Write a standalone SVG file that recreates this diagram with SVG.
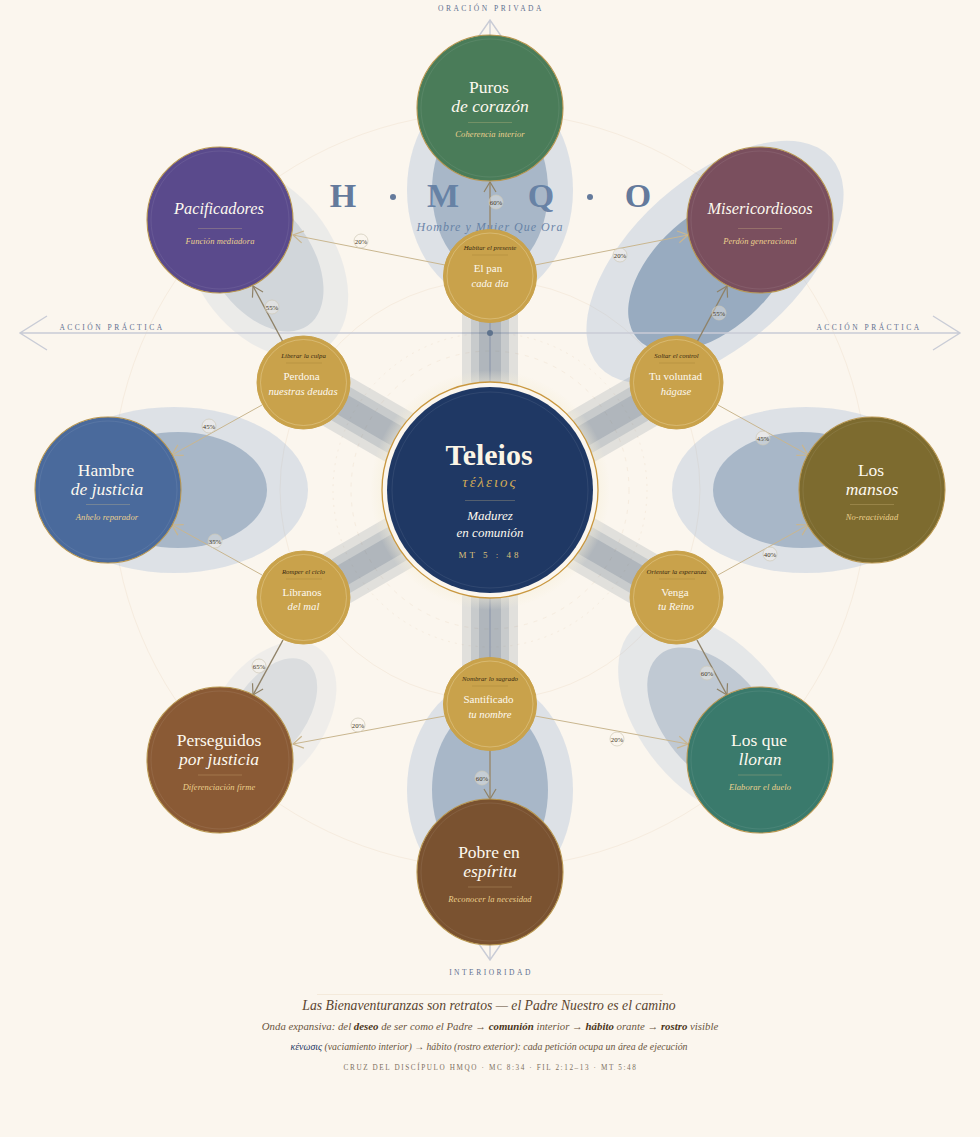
<svg xmlns="http://www.w3.org/2000/svg" width="980" height="1137" viewBox="0 0 980 1137">
<defs>
<marker id="ah" markerUnits="userSpaceOnUse" markerWidth="16" markerHeight="16" refX="11" refY="7" orient="auto"><path d="M1 1L11 7L1 13" fill="none" stroke="context-stroke" stroke-width="1.2"/></marker>
<radialGradient id="halo"><stop offset=".85" stop-color="#f6efda"/><stop offset="1" stop-color="#f6efda" stop-opacity="0"/></radialGradient>
</defs>
<style>
text{font-family:"Liberation Serif","Times New Roman",serif;text-anchor:middle}
.o{fill:#86a8cf;fill-opacity:.26}
.i{fill:#5f7fa0;fill-opacity:.42}
.ring{fill:none;stroke:#f6ecdf;stroke-width:1}
.band{fill:none;stroke:#4f647c}
.axis{fill:none;stroke:#c9ccd6;stroke-width:1.4}
.axl{font-size:7.500px;letter-spacing:2.500px;fill:#5f7090}
.ttl{font-size:34px;font-weight:bold;fill:#647a9c}
.c1{fill:none;stroke:#c9b68f;stroke-width:1;marker-end:url(#ah)}
.c2{fill:none;stroke:#8f8268;stroke-width:1.4;marker-end:url(#ah)}
.bd{fill:#fbf6ee;fill-opacity:.35;stroke:#cfc9b8;stroke-width:.7}
.bt{font-size:6.800px;fill:#3f3524}
.n{stroke:#b8964f;stroke-width:1.1}
.nr{fill:none;stroke:#fff;stroke-opacity:.1;stroke-width:.8}
.t{font-size:17.500px;fill:#fdf9ef}
.ti{font-size:17.500px;font-style:italic;fill:#fdf9ef}
.tl{font-size:16.300px;font-style:italic;fill:#fdf9ef}
.dv{stroke:#e2c98a;stroke-opacity:.35;stroke-width:.8}
.s{font-size:8.500px;font-style:italic;fill:#ecd18e;letter-spacing:.1px}
.p{fill:#c9a24b;stroke:#c9a24b;stroke-width:1}
.pr{fill:none;stroke:#ecd9a6;stroke-opacity:.6;stroke-width:.7}
.pu{font-size:6.800px;font-style:italic;fill:#3a2a12}
.pt{font-size:11px;fill:#fdf9ef}
.pi{font-size:10.700px;font-style:italic;fill:#fdf9ef}
.pd{stroke:#a9863a;stroke-width:.5}
</style>
<rect width="980" height="1137" fill="#fbf6ee"/>
<g id="rings">
<circle class="ring" cx="490" cy="490" r="378"/>
<circle class="ring" cx="490" cy="490" r="210"/>
<circle class="ring" cx="490" cy="490" r="157" stroke-dasharray="2 5"/>
<circle class="ring" cx="490" cy="490" r="139" stroke-dasharray="4 6"/>
</g>
<g id="title">
<text class="ttl" x="343" y="207">H</text>
<circle cx="393" cy="197" r="3" fill="#647a9c"/>
<text class="ttl" x="443" y="207">M</text>
<text class="ttl" x="541" y="207">Q</text>
<circle cx="590" cy="197" r="3" fill="#647a9c"/>
<text class="ttl" x="638" y="207">O</text>
<text x="490" y="231" font-size="12" font-style="italic" letter-spacing="1" fill="#647a9c">Hombre y Mujer Que Ora</text>
</g>
<g id="zones">
<g><ellipse class="o" cx="490" cy="190" rx="83" ry="110"/><ellipse class="i" cx="490" cy="190" rx="58" ry="85"/></g>
<g><ellipse class="o" cx="490" cy="790" rx="83" ry="110"/><ellipse class="i" cx="490" cy="790" rx="58" ry="85"/></g>
<g><ellipse class="o" cx="806" cy="490" rx="134" ry="83"/><ellipse class="i" cx="802" cy="490" rx="89" ry="58"/></g>
<g><ellipse class="o" cx="174" cy="490" rx="134" ry="83"/><ellipse class="i" cx="178" cy="490" rx="89" ry="58"/></g>
<g><ellipse class="o" cx="715" cy="262" rx="156" ry="83" transform="rotate(-42 715 262)"/><ellipse class="i" style="fill-opacity:.55" cx="712" cy="272" rx="100" ry="58" transform="rotate(-42 712 272)"/></g>
<g opacity=".7"><ellipse class="o" cx="713" cy="718" rx="120" ry="72" transform="rotate(50 713 718)"/><ellipse class="i" cx="714" cy="720" rx="85" ry="50" transform="rotate(50 714 720)"/></g>
<g opacity=".5"><ellipse class="o" cx="265" cy="262" rx="105" ry="70" transform="rotate(55 265 262)"/><ellipse class="i" cx="262" cy="260" rx="80" ry="50" transform="rotate(55 262 260)"/></g>
<g opacity=".38"><ellipse class="o" cx="270" cy="718" rx="85" ry="55" transform="rotate(-55 270 718)"/><ellipse class="i" cx="271" cy="713" rx="62" ry="36" transform="rotate(-55 271 713)"/></g>
</g>
<g id="axes">
<path class="axis" d="M20 333H960M47 316L20 333L47 350M933 316L960 333L933 350"/>
<path class="axis" d="M490 20V960M472 46L490 20L508 46M472 934L490 960L508 934"/>
<circle cx="490" cy="333" r="3" fill="#6c7f9c"/>
<text class="axl" x="491" y="11">ORACIÓN PRIVADA</text>
<text class="axl" x="112" y="330">ACCIÓN PRÁCTICA</text>
<text class="axl" x="869" y="330">ACCIÓN PRÁCTICA</text>
<text class="axl" x="491" y="975">INTERIORIDAD</text>
</g>
<g id="bands">
<g class="band" stroke-width="56" stroke-opacity=".15"><path d="M490 490V276M490 490V704M490 490L675 383M490 490L675 597M490 490L305 383M490 490L305 597"/></g>
<g class="band" stroke-width="38" stroke-opacity=".17"><path d="M490 490V276M490 490V704M490 490L675 383M490 490L675 597M490 490L305 383M490 490L305 597"/></g>
<g class="band" stroke-width="22" stroke-opacity=".2"><path d="M490 490V276M490 490V704M490 490L675 383M490 490L675 597M490 490L305 383M490 490L305 597"/></g>
</g>
<g id="connectors">
<path class="c2" d="M490 232V182"/>
<path class="c1" d="M445 265L293 235"/>
<path class="c1" d="M535 265L688 235"/>
<path class="c2" d="M283 342L253 286"/>
<path class="c2" d="M697 342L727 286"/>
<path class="c1" d="M718 405L808 455"/>
<path class="c1" d="M262 405L172 455"/>
<path class="c1" d="M262 575L172 525"/>
<path class="c1" d="M718 575L808 525"/>
<path class="c2" d="M697 640L727 695"/>
<path class="c2" d="M283 640L253 695"/>
<path class="c1" d="M445 716L293 744"/>
<path class="c1" d="M535 716L688 744"/>
<path class="c2" d="M490 750V799"/>
</g>
<g id="badges">
<circle class="bd" cx="496" cy="202" r="7"/><text class="bt" x="496" y="204.500">60%</text>
<circle class="bd" cx="361" cy="241" r="7"/><text class="bt" x="361" y="243.500">20%</text>
<circle class="bd" cx="620" cy="255" r="7"/><text class="bt" x="620" y="257.500">20%</text>
<circle class="bd" cx="272" cy="307" r="7"/><text class="bt" x="272" y="309.500">55%</text>
<circle class="bd" cx="719" cy="313" r="7"/><text class="bt" x="719" y="315.500">55%</text>
<circle class="bd" cx="763" cy="438" r="7"/><text class="bt" x="763" y="440.500">45%</text>
<circle class="bd" cx="209" cy="426" r="7"/><text class="bt" x="209" y="428.500">45%</text>
<circle class="bd" cx="215" cy="541" r="7"/><text class="bt" x="215" y="543.500">35%</text>
<circle class="bd" cx="770" cy="554" r="7"/><text class="bt" x="770" y="556.500">40%</text>
<circle class="bd" cx="707" cy="673" r="7"/><text class="bt" x="707" y="675.500">60%</text>
<circle class="bd" cx="259" cy="666" r="7"/><text class="bt" x="259" y="668.500">65%</text>
<circle class="bd" cx="358" cy="725" r="7"/><text class="bt" x="358" y="727.500">20%</text>
<circle class="bd" cx="617" cy="739" r="7"/><text class="bt" x="617" y="741.500">20%</text>
<circle class="bd" cx="482" cy="778" r="7"/><text class="bt" x="482" y="780.500">60%</text>
</g>
<g id="center">
<circle cx="490" cy="490" r="120" fill="url(#halo)" opacity=".7"/>
<circle cx="490" cy="490" r="108" fill="#fbf6ee" stroke="#c9973f" stroke-width="1.3"/>
<circle cx="490" cy="490" r="103" fill="#1f3864"/>
<circle class="nr" cx="490" cy="490" r="98"/>
<text x="489" y="465" font-size="30" font-weight="bold" fill="#fbf5e6">Teleios</text>
<text x="490" y="487" font-size="15" font-style="italic" letter-spacing="2" fill="#d0aa55">τέλειος</text>
<path class="dv" d="M465 500.500H515"/>
<text x="490" y="520" font-size="13" font-style="italic" fill="#fdf9ef">Madurez</text>
<text x="490" y="537" font-size="13" font-style="italic" fill="#fdf9ef">en comunión</text>
<text x="490" y="558" font-size="9" letter-spacing="3" fill="#dcc07a">MT 5 : 48</text>
</g>
<g id="puros"><circle class="n" cx="490" cy="108" r="73" fill="#4a7c59"/><circle class="nr" cx="490" cy="108" r="69"/><text class="t" x="489" y="93">Puros</text><text class="ti" x="490" y="112">de corazón</text><path class="dv" d="M468 122.500H512"/><text class="s" x="490" y="137">Coherencia interior</text></g>
<g id="misericordiosos"><circle class="n" cx="760" cy="220" r="73" fill="#7a4f5e"/><circle class="nr" cx="760" cy="220" r="69"/><text class="tl" x="760" y="214">Misericordiosos</text><path class="dv" d="M738 228.500H782"/><text class="s" x="760" y="244">Perdón generacional</text></g>
<g id="mansos"><circle class="n" cx="872" cy="490" r="73" fill="#7d6b2f"/><circle class="nr" cx="872" cy="490" r="69"/><text class="t" x="871" y="476">Los</text><text class="ti" x="872" y="495">mansos</text><path class="dv" d="M850 504.500H894"/><text class="s" x="872" y="520">No-reactividad</text></g>
<g id="lloran"><circle class="n" cx="760" cy="760" r="73" fill="#3a7a6c"/><circle class="nr" cx="760" cy="760" r="69"/><text class="t" x="759" y="746">Los que</text><text class="ti" x="760" y="765">lloran</text><path class="dv" d="M738 775H782"/><text class="s" x="760" y="790">Elaborar el duelo</text></g>
<g id="pobre"><circle class="n" cx="490" cy="872" r="73" fill="#7a5230"/><circle class="nr" cx="490" cy="872" r="69"/><text class="t" x="489" y="858">Pobre en</text><text class="ti" x="490" y="877">espíritu</text><path class="dv" d="M468 887H512"/><text class="s" x="490" y="902">Reconocer la necesidad</text></g>
<g id="perseguidos"><circle class="n" cx="220" cy="760" r="73" fill="#8a5a35"/><circle class="nr" cx="220" cy="760" r="69"/><text class="t" x="219" y="746">Perseguidos</text><text class="ti" x="219" y="765">por justicia</text><path class="dv" d="M198 775H242"/><text class="s" x="219" y="790">Diferenciación firme</text></g>
<g id="hambre"><circle class="n" cx="108" cy="490" r="73" fill="#4a6a9c"/><circle class="nr" cx="108" cy="490" r="69"/><text class="t" x="106" y="476">Hambre</text><text class="ti" x="107" y="495">de justicia</text><path class="dv" d="M86 504.500H130"/><text class="s" x="107" y="520">Anhelo reparador</text></g>
<g id="pacificadores"><circle class="n" cx="220" cy="220" r="73" fill="#5a4a8c"/><circle class="nr" cx="220" cy="220" r="69"/><text class="tl" x="219" y="214">Pacificadores</text><path class="dv" d="M198 228.500H242"/><text class="s" x="220" y="244">Función mediadora</text></g>
<g id="elpan"><circle class="p" cx="490" cy="276" r="46.500"/><circle class="pr" cx="490" cy="276" r="43"/><text class="pu" x="490" y="250">Habitar el presente</text><path class="pd" d="M472 255H508"/><text class="pt" x="488" y="272">El pan</text><text class="pi" x="490" y="287">cada día</text></g>
<g id="voluntad"><circle class="p" cx="676.500" cy="382.500" r="46.500"/><circle class="pr" cx="676.500" cy="382.500" r="43"/><text class="pu" x="676.500" y="358">Soltar el control</text><path class="pd" d="M659 363H695"/><text class="pt" x="675.500" y="380">Tu voluntad</text><text class="pi" x="676" y="395">hágase</text></g>
<g id="venga"><circle class="p" cx="676.500" cy="597.500" r="46.500"/><circle class="pr" cx="676.500" cy="597.500" r="43"/><text class="pu" x="676.500" y="574">Orientar la esperanza</text><path class="pd" d="M659 579H695"/><text class="pt" x="675" y="596">Venga</text><text class="pi" x="676" y="610">tu Reino</text></g>
<g id="santificado"><circle class="p" cx="490" cy="704" r="46.500"/><circle class="pr" cx="490" cy="704" r="43"/><text class="pu" x="490" y="681">Nombrar lo sagrado</text><path class="pd" d="M472 686H508"/><text class="pt" x="488.500" y="703">Santificado</text><text class="pi" x="490" y="718">tu nombre</text></g>
<g id="libranos"><circle class="p" cx="303.500" cy="597.500" r="46.500"/><circle class="pr" cx="303.500" cy="597.500" r="43"/><text class="pu" x="303.500" y="574">Romper el ciclo</text><path class="pd" d="M286 579H322"/><text class="pt" x="302" y="596">Líbranos</text><text class="pi" x="303.500" y="610">del mal</text></g>
<g id="perdona"><circle class="p" cx="303.500" cy="382.500" r="46.500"/><circle class="pr" cx="303.500" cy="382.500" r="43"/><text class="pu" x="303.500" y="358">Liberar la culpa</text><path class="pd" d="M286 363H322"/><text class="pt" x="301.500" y="380">Perdona</text><text class="pi" x="303" y="395">nuestras deudas</text></g>
<g id="footer">
<path d="M317 994.500H663" stroke="#f4eadb" stroke-width="1"/>
<text x="489" y="1010" font-size="13.700" font-style="italic" fill="#5a4530">Las Bienaventuranzas son retratos — el Padre Nuestro es el camino</text>
<text x="490" y="1030" font-size="10.800" font-style="italic" fill="#6a5540">Onda expansiva: del <tspan font-weight="bold" fill="#4a3520">deseo</tspan> de ser como el Padre → <tspan font-weight="bold" fill="#4a3520">comunión</tspan> interior → <tspan font-weight="bold" fill="#4a3520">hábito</tspan> orante → <tspan font-weight="bold" fill="#4a3520">rostro</tspan> visible</text>
<text x="489" y="1050" font-size="9.850" font-style="italic" fill="#6a5540"><tspan fill="#1f3864">κένωσις</tspan> (vaciamiento interior) → hábito (rostro exterior): cada petición ocupa un área de ejecución</text>
<text x="490.500" y="1070" font-size="7.200" letter-spacing="1.600" fill="#7d705f">CRUZ DEL DISCÍPULO HMQO · MC 8:34 · FIL 2:12–13 · MT 5:48</text>
</g>
</svg>
